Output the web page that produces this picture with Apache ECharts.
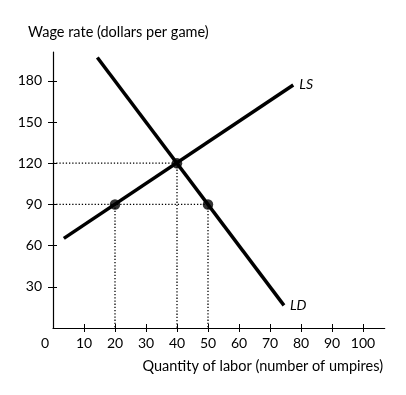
<!DOCTYPE html>
<html><head><meta charset="utf-8">
<script src="https://cdn.jsdelivr.net/npm/echarts@6/dist/echarts.min.js"></script>
<style>html,body{margin:0;padding:0;background:#fff}#c{width:406px;height:395px}</style>
</head><body><div id="c"></div>
<script>
const xTicks = [0, 10, 20, 30, 40, 50, 60, 70, 80, 90, 100];
const yTicks = [30, 60, 90, 120, 150, 180];
const lsCurve = [[3.5, 65.25], [77.5, 177]];
const ldCurve = [[14.3, 197], [74.5, 16.5]];
const eqPoints = [[20, 90], [40, 120], [50, 90]];
const lsName = 'LS';
const ldName = 'LD';
const yTitle = 'Wage rate (dollars per game)';
const xTitle = 'Quantity of labor (number of umpires)';

const FONT = 'Lato';
const INK = '#000';
const X_MAX = 107, Y_MAX = 201;

// dotted guide lines built from the equilibrium points
const guides = [];
eqPoints.forEach(p => guides.push([[p[0], p[1]], [p[0], 0]]));
const ys = [...new Set(eqPoints.map(p => p[1]))];
ys.forEach(y => {
  const xm = Math.max(...eqPoints.filter(p => p[1] === y).map(p => p[0]));
  guides.push([[0, y], [xm, y]]);
});

const series = [];
guides.forEach(g => series.push({
  type: 'line', data: g, showSymbol: false, silent: true, z: 1,
  lineStyle: { color: INK, width: 1.3, type: [1.3, 1.9] }
}));
const curveLabel = { show: true, color: INK, fontFamily: FONT, fontStyle: 'italic', fontSize: 14, distance: 6 };
series.push({
  type: 'line', data: lsCurve, showSymbol: false, z: 3,
  lineStyle: { color: INK, width: 3.5 },
  endLabel: Object.assign({}, curveLabel, { formatter: lsName })
});
series.push({
  type: 'line', data: ldCurve, showSymbol: false, z: 3,
  lineStyle: { color: INK, width: 3.5 },
  endLabel: Object.assign({}, curveLabel, { formatter: ldName, offset: [0, 0] })
});
series.push({
  type: 'scatter', data: eqPoints, symbolSize: 10.5, z: 5,
  itemStyle: { color: INK }
});

const labelStyle = { color: INK, fontFamily: FONT, fontSize: 14 };
const option = {
  animation: false,
  backgroundColor: '#fff',
  title: [
    { text: yTitle, left: 28, top: 25, padding: 0,
      textStyle: { color: INK, fontFamily: FONT, fontSize: 14.5, fontWeight: 'normal' } },
    { text: xTitle, right: 23, top: 359, padding: 0,
      textStyle: { color: INK, fontFamily: FONT, fontSize: 14.5, fontWeight: 'normal' } }
  ],
  grid: { left: 53, right: 406 - 53 - X_MAX * 3.1, top: 52, bottom: 67, containLabel: false },
  xAxis: [
    { type: 'value', min: 0, max: X_MAX, position: 'bottom',
      splitLine: { show: false },
      axisLine: { lineStyle: { color: INK, width: 1.2 } },
      axisTick: { customValues: xTicks.slice(1), length: 4, lineStyle: { color: INK, width: 1 } },
      axisLabel: Object.assign({}, labelStyle, {
        customValues: xTicks, margin: 8,
        formatter: v => v === 0 ? '{o|0}' : String(v),
        rich: { o: { padding: [0, 16, 0, 0], color: INK, fontFamily: FONT, fontSize: 14 } }
      })
    },
    { type: 'value', min: 0, max: X_MAX, position: 'bottom',
      splitLine: { show: false }, axisLine: { show: false }, axisLabel: { show: false },
      axisTick: { inside: true, customValues: xTicks.slice(1), length: 4, lineStyle: { color: INK, width: 1 } }
    }
  ],
  yAxis: [
    { type: 'value', min: 0, max: Y_MAX, position: 'left',
      splitLine: { show: false },
      axisLine: { lineStyle: { color: INK, width: 1.2 } },
      axisTick: { customValues: yTicks, length: 5, lineStyle: { color: INK, width: 1 } },
      axisLabel: Object.assign({}, labelStyle, { customValues: yTicks, margin: 11 })
    },
    { type: 'value', min: 0, max: Y_MAX, position: 'left',
      splitLine: { show: false }, axisLine: { show: false }, axisLabel: { show: false },
      axisTick: { inside: true, customValues: yTicks, length: 4, lineStyle: { color: INK, width: 1 } }
    }
  ],
  series: series
};
const chart = echarts.init(document.getElementById('c'), null, { renderer: 'canvas' });
chart.setOption(option);
</script>
</body></html>
